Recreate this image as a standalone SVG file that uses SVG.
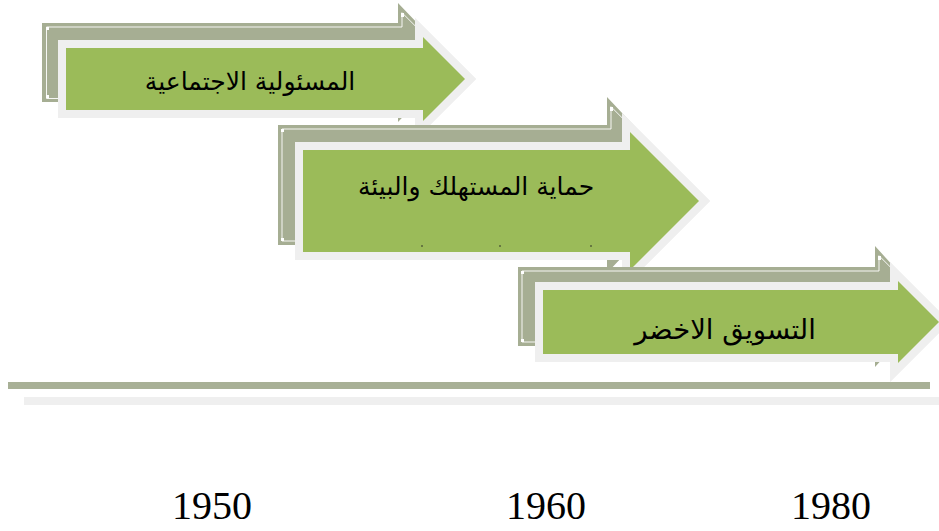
<svg xmlns="http://www.w3.org/2000/svg" width="939" height="531" viewBox="0 0 939 531">
<style>
.gray{fill:#a6ae93}
.light{fill:#efefef}
.green{fill:#9bbb59}
.inner{fill:none;stroke:#ffffff;stroke-width:1;opacity:0.9}
.handle{fill:#ffffff}
.ar{font-family:"DejaVu Sans",sans-serif;fill:#000;text-anchor:middle}
.yr{font-family:"Liberation Serif",serif;font-size:40px;fill:#000;text-anchor:middle}
</style>
<rect width="939" height="531" fill="#ffffff"/>
<g id="timeline">
<rect x="8" y="382" width="922" height="7" fill="#a8b096"/>
<rect x="24" y="397" width="915" height="8" class="light"/>
</g>
<g id="arrow1">
<path class="gray" d="M42,23 H398 V3 L455,62.5 L398,122 V102 H42 Z"/>
<path class="inner" d="M58,98.5 H46.5 V27 H402 V12.7 L420,30.7"/>
<rect class="handle" x="46" y="27" width="3" height="3"/>
<rect class="handle" x="46" y="95" width="3" height="3"/>
<rect class="handle" x="401" y="13" width="3" height="4"/>
<path class="light" d="M58,40 H415 V17.7 L476.3,79 L415,140.3 V118 H58 Z"/>
<path class="green" d="M66,48 H423 V37 L465,79 L423,121 V110 H66 Z"/>
<text class="ar" x="250" y="90" font-size="25">المسئولية الاجتماعية</text>
</g>
<g id="arrow2">
<path class="gray" d="M278,125 H607 V97 L690,185 L607,273 V245 H278 Z"/>
<path class="inner" d="M295,241 H282 V129 H611 V106.7 L625,120.7"/>
<rect class="handle" x="281" y="129" width="3" height="3"/>
<rect class="handle" x="281" y="238" width="3" height="3"/>
<rect class="handle" x="610" y="107" width="3" height="4"/>
<path class="light" d="M295,142 H622 V112.7 L710.3,201 L622,289.3 V260 H295 Z"/>
<path class="green" d="M303,150 H630 V132 L699,201 L630,270 V252 H303 Z"/>
<text class="ar" x="476" y="195" font-size="25">حماية المستهلك والبيئة</text>
<circle cx="422" cy="246" r="0.8" fill="#222"/>
<circle cx="500" cy="246" r="0.8" fill="#222"/>
<circle cx="591" cy="246" r="0.8" fill="#222"/>
</g>
<g id="arrow3">
<path class="gray" d="M518,267 H875 V246 L930,306.5 L875,367 V346 H518 Z"/>
<path class="inner" d="M535,342 H522 V271 H879 V255.7 L895,271.7"/>
<rect class="handle" x="521" y="271" width="3" height="3"/>
<rect class="handle" x="521" y="339" width="3" height="3"/>
<rect class="handle" x="878" y="256" width="3" height="4"/>
<path class="light" d="M535,282 H890 V261.7 L950.3,322 L890,382.3 V362 H535 Z"/>
<path class="green" d="M543,290 H898 V281 L939,322 L898,363 V354 H543 Z"/>
<text class="ar" x="725" y="339" font-size="27.5">التسويق الاخضر</text>
</g>
<g id="years">
<text class="yr" x="212" y="519">1950</text>
<text class="yr" x="546" y="519">1960</text>
<text class="yr" x="831" y="519">1980</text>
</g>
</svg>
